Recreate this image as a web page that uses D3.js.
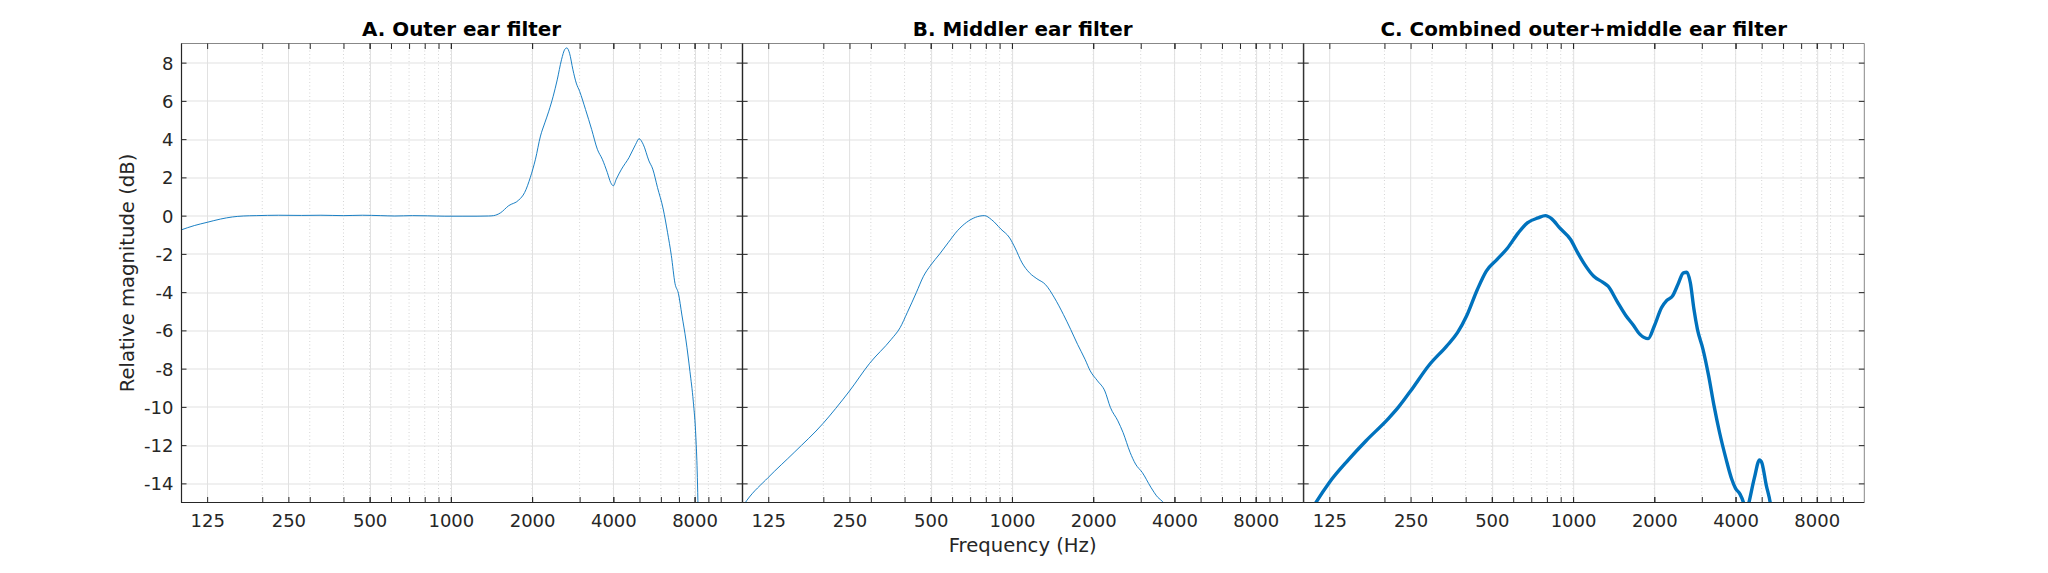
<!DOCTYPE html>
<html>
<head>
<meta charset="utf-8">
<script src="https://cdn.jsdelivr.net/npm/d3@7"></script>
<style>
html,body{margin:0;padding:0;background:#fff;}
svg{display:block;font-family:"DejaVu Sans",sans-serif;}
</style>
</head>
<body>
<svg id="chart" width="2048" height="573"></svg>
<script>
// ---------- data ----------
const freqTickValues = [125, 250, 500, 1000, 2000, 4000, 8000];
const minorFreqs = [200, 300, 400, 500, 600, 700, 800, 900, 1000, 2000, 3000, 4000, 5000, 6000, 7000, 8000, 9000, 10000];
const gainTicks = [-14, -12, -10, -8, -6, -4, -2, 0, 2, 4, 6, 8];
const panelTitles = ["A. Outer ear filter", "B. Middler ear filter", "C. Combined outer+middle ear filter"];
const xLabelText = "Frequency (Hz)";
const yLabelText = "Relative magnitude (dB)";

const outerFreq = [100, 112, 125, 140, 155, 170, 190, 230, 280, 330, 400, 470, 550, 620, 720, 820, 950, 1100, 1250, 1380, 1440,
  1525, 1638, 1784, 1877, 1970, 2058, 2148, 2229, 2306, 2394, 2478, 2570, 2645, 2690, 2753, 2833, 2915, 3000, 3155, 3325,
  3490, 3640, 3800, 3910, 4000, 4100, 4290, 4570, 4840, 4980, 5160, 5420, 5600, 5830, 6120, 6350, 6560, 6770, 6970, 7180,
  7430, 7690, 7910, 8090, 8180, 8230, 8300];
const outerGain = [-0.75, -0.52, -0.35, -0.18, -0.07, -0.02, 0.0, 0.02, 0.01, 0.02, 0.0, 0.02, 0.0, -0.02, 0.0, -0.01, -0.03, -0.03, -0.03, -0.02, 0.0,
  0.14, 0.52, 0.81, 1.21, 2.0, 2.95, 4.16, 4.85, 5.46, 6.24, 7.1, 8.15, 8.7, 8.77, 8.49, 7.63, 6.93, 6.5, 5.55, 4.5,
  3.47, 2.95, 2.25, 1.73, 1.56, 1.9, 2.43, 3.03, 3.73, 4.02, 3.73, 2.86, 2.43, 1.47, 0.35, -0.87, -2.08, -3.55, -4.07, -5.2,
  -6.5, -8.15, -9.7, -11.6, -13.35, -14.9, -17.5];

const middleFreq = [100, 104, 125, 156, 200, 222, 250, 297, 357, 385, 409, 442, 470, 500, 540, 582, 629, 679, 732, 790, 840,
  909, 981, 1027, 1090, 1161, 1237, 1330, 1437, 1551, 1650, 1750, 1865, 1950, 2075, 2209, 2316, 2468, 2580, 2740, 2870,
  3040, 3270, 3470, 3620, 3800];
const middleGain = [-15.25, -14.9, -13.69, -12.38, -10.85, -10.09, -9.17, -7.72, -6.47, -5.86, -5.08, -4.03, -3.17, -2.59, -2.0, -1.39, -0.78, -0.35, -0.09, 0.0, -0.21,
  -0.7, -1.17, -1.69, -2.47, -2.99, -3.3, -3.6, -4.3, -5.17, -5.95, -6.73, -7.51, -8.12, -8.64, -9.17, -10.03, -10.73, -11.34, -12.38, -12.99,
  -13.43, -14.2, -14.73, -14.96, -15.4];

const combinedFreq = [100, 112, 125, 147, 171, 206, 225, 250, 293, 340, 373, 403, 442, 477, 522, 572, 627, 677, 742, 790, 834,
  892, 979, 1041, 1105, 1193, 1287, 1348, 1454, 1568, 1665, 1770, 1898, 2000, 2126, 2225, 2335, 2446, 2564, 2640, 2720,
  2805, 2890, 3030, 3180, 3330, 3490, 3690, 3870, 4000, 4150, 4280, 4380, 4485, 4700, 4908, 5000, 5200, 5376, 5500];
const combinedGain = [-16.2, -14.96, -13.95, -12.77, -11.77, -10.64, -10.03, -9.17, -7.81, -6.82, -6.12, -5.25, -3.86, -2.9, -2.3, -1.69, -0.9, -0.38, -0.12, 0.0, -0.17,
  -0.64, -1.25, -1.95, -2.56, -3.17, -3.48, -3.69, -4.47, -5.22, -5.69, -6.21, -6.43, -5.77, -4.82, -4.43, -4.21, -3.6, -2.99, -2.96, -3.51,
  -4.9, -5.95, -6.99, -8.38, -9.95, -11.34, -12.73, -13.77, -14.26, -14.55, -15.0, -15.6, -15.0, -13.7, -12.77, -12.9, -14.1, -15.0, -16.0];

const panelSeries = [
  {freq: outerFreq, gain: outerGain},
  {freq: middleFreq, gain: middleGain},
  {freq: combinedFreq, gain: combinedGain}
];

// ---------- layout ----------
const svg = d3.select("#chart");
svg.append("rect").attr("width", 2048).attr("height", 573).attr("fill", "#fff");

const plotLeft = 181, plotTop = 43.5, plotW = 561.1, plotH = 459;
const axisColor = "#262626";
const tickLen = 5.5;
const lineStyles = [
  {color: "#0072BD", width: 0.9},
  {color: "#0072BD", width: 0.9},
  {color: "#0072BD", width: 3.4}
];

panelSeries.forEach((series, i) => {
  const x0 = plotLeft + i * plotW;
  const g = svg.append("g").attr("transform", `translate(${x0},${plotTop})`);
  const x = d3.scaleLog().domain([100, 12000]).range([0, plotW]);
  const y = d3.scaleLinear().domain([-15, 9]).range([plotH, 0]);

  // minor grid (dotted)
  g.append("g").selectAll("line").data(minorFreqs).join("line")
    .attr("x1", d => x(d)).attr("x2", d => x(d)).attr("y1", 0).attr("y2", plotH)
    .attr("stroke", "#d4d4d4").attr("stroke-width", 1).attr("stroke-dasharray", "1,2.5");
  // major grid
  g.append("g").selectAll("line").data(freqTickValues).join("line")
    .attr("x1", d => Math.round(x(d)) + 0.5).attr("x2", d => Math.round(x(d)) + 0.5).attr("y1", 0).attr("y2", plotH)
    .attr("stroke", "#e1e1e1").attr("stroke-width", 1);
  g.append("g").selectAll("line").data(gainTicks).join("line")
    .attr("x1", 0).attr("x2", plotW).attr("y1", d => Math.round(y(d)) + 0.5).attr("y2", d => Math.round(y(d)) + 0.5)
    .attr("stroke", "#e1e1e1").attr("stroke-width", 1);

  // data line, clipped to the axes box
  const clipId = "clip" + i;
  g.append("clipPath").attr("id", clipId).append("rect")
    .attr("x", 0).attr("y", 0).attr("width", plotW).attr("height", plotH);
  const pts = series.freq.map((f, k) => [f, series.gain[k]]);
  const line = d3.line().x(d => x(d[0])).y(d => y(d[1])).curve(d3.curveMonotoneX);
  g.append("path").datum(pts)
    .attr("clip-path", `url(#${clipId})`)
    .attr("fill", "none")
    .attr("stroke", lineStyles[i].color)
    .attr("stroke-width", lineStyles[i].width)
    .attr("stroke-linejoin", "round")
    .attr("d", line);

  // axes (ticks inward)
  const styleAxis = sel => {
    sel.select(".domain").remove();
    sel.selectAll(".tick line").attr("stroke", axisColor);
    sel.selectAll(".tick text").attr("fill", axisColor).attr("font-family", "DejaVu Sans").attr("font-size", 18);
  };
  // bottom major
  const bottom = g.append("g").attr("transform", `translate(0,${plotH})`)
    .call(d3.axisBottom(x).tickValues(freqTickValues).tickFormat(d => String(d)).tickSizeInner(-tickLen).tickSizeOuter(0));
  styleAxis(bottom);
  bottom.selectAll(".tick text").attr("y", 24.5).attr("dy", 0);
  // bottom minor
  const bottomMinor = g.append("g").attr("transform", `translate(0,${plotH})`)
    .call(d3.axisBottom(x).tickValues(minorFreqs).tickFormat("").tickSizeInner(-tickLen).tickSizeOuter(0));
  styleAxis(bottomMinor);
  // top major + minor
  const top = g.append("g")
    .call(d3.axisTop(x).tickValues(freqTickValues).tickFormat("").tickSizeInner(-tickLen).tickSizeOuter(0));
  styleAxis(top);
  const topMinor = g.append("g")
    .call(d3.axisTop(x).tickValues(minorFreqs).tickFormat("").tickSizeInner(-tickLen).tickSizeOuter(0));
  styleAxis(topMinor);
  // left
  const left = g.append("g")
    .call(d3.axisLeft(y).tickValues(gainTicks).tickFormat(i === 0 ? (d => String(d)) : "").tickSizeInner(-tickLen).tickSizeOuter(0).tickPadding(7.5));
  styleAxis(left);
  left.selectAll(".tick text").attr("x", -7.5).attr("dy", "0.36em");
  // right
  const right = g.append("g").attr("transform", `translate(${plotW},0)`)
    .call(d3.axisRight(y).tickValues(gainTicks).tickFormat("").tickSizeInner(-tickLen).tickSizeOuter(0));
  styleAxis(right);

  // box
  g.append("line").attr("x1", 0).attr("x2", plotW).attr("y1", 0).attr("y2", 0)
    .attr("stroke", axisColor).attr("stroke-width", 1).attr("stroke-opacity", 0.55);
  g.append("line").attr("x1", plotW).attr("x2", plotW).attr("y1", 0).attr("y2", plotH)
    .attr("stroke", axisColor).attr("stroke-width", 1).attr("stroke-opacity", 0.55);
  g.append("line").attr("x1", 0).attr("x2", plotW).attr("y1", plotH).attr("y2", plotH)
    .attr("stroke", axisColor).attr("stroke-width", 1.2);
  g.append("line").attr("x1", 0.5).attr("x2", 0.5).attr("y1", 0).attr("y2", plotH)
    .attr("stroke", axisColor).attr("stroke-width", 1.2);

  // title
  svg.append("text")
    .attr("x", x0 + plotW / 2).attr("y", 36)
    .attr("text-anchor", "middle")
    .attr("font-weight", "bold").attr("font-size", 19.9).attr("fill", "#000")
    .text(panelTitles[i]);

  if (i === 1) {
    svg.append("text")
      .attr("x", x0 + plotW / 2).attr("y", 552)
      .attr("text-anchor", "middle")
      .attr("font-size", 19.6).attr("fill", axisColor)
      .text(xLabelText);
  }
  if (i === 0) {
    svg.append("text")
      .attr("transform", `translate(127,${plotTop + plotH / 2}) rotate(-90)`)
      .attr("text-anchor", "middle").attr("dy", "0.35em")
      .attr("font-size", 19.6).attr("fill", axisColor)
      .text(yLabelText);
  }
});
</script>
</body>
</html>
